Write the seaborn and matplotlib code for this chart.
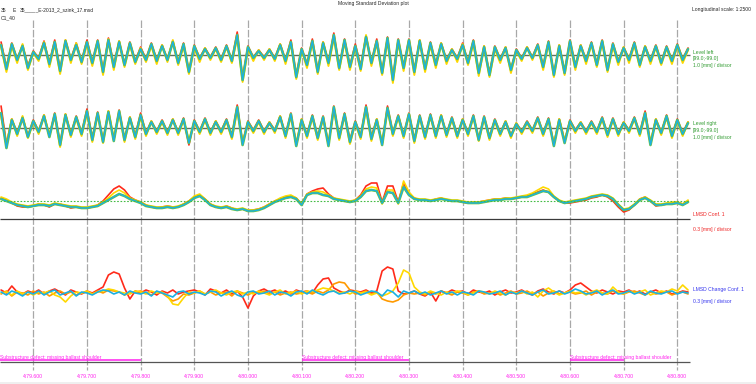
import numpy as np
import matplotlib
matplotlib.use("Agg")
import matplotlib.pyplot as plt
import seaborn as sns

sns.set_style("white")
plt.rcParams['font.family'] = ['Liberation Sans', 'DejaVu Sans']

# ---------------- data ----------------
chainage = np.arange(79540, 80830, 10)          # metres, 10 m sampling
tick_pos = [79600, 79700, 79800, 79900, 80000, 80100, 80200,
            80300, 80400, 80500, 80600, 80700, 80800]
tick_labels = [f"4:{t/1000:.3f}" for t in tick_pos]

defect_start = [79538, 80100, 80600]
defect_end = [79800, 80300, 80700]
defect_text = "Substructure defect: missing ballast shoulder"

# Level left (0.1 mm)
left_cyan = [10, -14, 11, -5, 9, -13,
             3, -4, 12, -9, 13, -16, 14, -5, 10, -7,
             13, -8, 14, -17, 15, -12, 13, -10, 12, -7,
             6, -5, 11, -6, 9, -5, 13, -8, 11, -17,
             9, -4, 6, -3, 7, -5, 9, -6, 20, -25,
             8, -3, 4, -3, 5, -4, 10, -6, 13, -22,
             6, -10, 14, -17, 12, -8, 20, -13, 15, -12,
             9, -14, 18, -8, 14, -18, 17, -25, 15, -13,
             15, -17, 14, -14, 12, -10, 11, -6, 5, -4,
             10, -8, 14, -18, 8, -20, 8, -5, 7, -15,
             5, -4, 7, -3, 10, -12, 13, -20, 9, -18,
             14, -12, 9, -6, 12, -10, 14, -15, 11, -7,
             7, -5, 12, -10, 8, -6, 9, -8, 8, -6,
             10, -5, 6]
left_yellow = [8, -17, 9, -8, 11, -15,
               2, -6, 13, -12, 11, -19, 15, -8, 12, -9,
               11, -11, 13, -20, 16, -15, 14, -12, 10, -9,
               7, -7, 9, -9, 10, -7, 15, -10, 9, -19,
               7, -7, 7, -5, 6, -7, 8, -8, 18, -27,
               6, -6, 5, -5, 6, -6, 11, -9, 12, -24,
               5, -13, 13, -19, 13, -11, 17, -15, 13, -15,
               8, -16, 20, -11, 12, -20, 15, -28, 13, -16,
               13, -20, 15, -17, 10, -13, 12, -9, 6, -7,
               11, -10, 12, -21, 9, -22, 6, -8, 8, -18,
               4, -6, 8, -5, 9, -15, 12, -22, 10, -20,
               12, -15, 10, -9, 11, -12, 13, -17, 9, -10,
               8, -8, 10, -12, 9, -9, 8, -10, 7, -9,
               9, -8, 5]
left_red = [13, -12, 12, -4, 10, -11,
            4, -3, 14, -8, 15, -14, 15, -4, 12, -6,
            15, -7, 15, -15, 17, -10, 14, -9, 13, -6,
            8, -4, 12, -5, 10, -4, 14, -7, 12, -16,
            10, -3, 7, -2, 8, -4, 10, -5, 23, -23,
            9, -2, 5, -2, 6, -3, 11, -5, 15, -20,
            7, -9, 16, -15, 13, -7, 22, -12, 16, -11,
            11, -11, 19, -7, 16, -17, 18, -23, 16, -12,
            16, -15, 15, -13, 13, -9, 12, -5, 6, -3,
            12, -7, 15, -17, 9, -18, 9, -4, 8, -14,
            6, -3, 8, -2, 11, -11, 14, -19, 10, -17,
            15, -11, 10, -5, 13, -9, 15, -14, 12, -6,
            8, -4, 13, -9, 9, -5, 10, -7, 9, -5,
            11, -4, 7]

# Level right (0.1 mm)
right_cyan = [15, -20, 8, -6, 10, -9,
              7, -4, 12, -9, 14, -17, 13, -7, 11, -6,
              17, -12, 15, -14, 16, -13, 17, -12, 10, -9,
              13, -6, 6, -4, 7, -5, 8, -5, 9, -15,
              7, -4, 9, -5, 6, -4, 8, -9, 21, -17,
              6, -3, 7, -4, 5, -3, 11, -8, 14, -18,
              8, -8, 12, -10, 11, -18, 21, -10, 14, -14,
              6, -9, 21, -11, 8, -17, 20, -6, 12, -8,
              14, -13, 12, -9, 13, -8, 12, -7, 10, -8,
              8, -6, 12, -12, 11, -10, 8, -6, 6, -8,
              4, -4, 6, -3, 10, -6, 9, -18, 8, -15,
              7, -3, 5, -4, 6, -4, 10, -7, 9, -6,
              5, -3, 10, -6, 15, -17, 8, -5, 12, -8,
              8, -6, 5]
right_yellow = [12, -17, 9, -8, 12, -10,
                6, -6, 13, -7, 12, -19, 14, -9, 10, -8,
                15, -14, 14, -15, 17, -11, 15, -14, 11, -11,
                11, -8, 7, -6, 6, -7, 9, -7, 8, -13,
                6, -6, 8, -7, 7, -6, 7, -11, 18, -15,
                5, -5, 6, -6, 6, -5, 12, -10, 12, -16,
                9, -10, 11, -12, 10, -16, 19, -12, 13, -16,
                5, -11, 19, -13, 9, -15, 18, -8, 11, -10,
                13, -15, 11, -11, 12, -10, 13, -9, 9, -10,
                9, -8, 11, -13, 10, -12, 7, -8, 7, -10,
                5, -6, 5, -5, 9, -8, 8, -16, 9, -13,
                6, -5, 6, -6, 5, -6, 9, -9, 8, -8,
                6, -5, 9, -8, 13, -15, 9, -7, 11, -10,
                7, -8, 6]
right_red = [22, -16, 9, -5, 11, -8,
             8, -3, 13, -8, 15, -15, 14, -6, 12, -5,
             19, -10, 16, -13, 17, -12, 18, -11, 11, -8,
             15, -5, 7, -3, 8, -4, 9, -4, 10, -17,
             8, -3, 10, -4, 7, -3, 9, -8, 23, -15,
             7, -2, 8, -3, 6, -2, 12, -7, 15, -17,
             9, -7, 13, -9, 12, -16, 22, -9, 15, -12,
             7, -8, 23, -9, 9, -16, 22, -5, 13, -7,
             15, -12, 13, -8, 14, -7, 13, -6, 11, -7,
             9, -5, 13, -11, 12, -9, 9, -5, 7, -7,
             5, -3, 7, -2, 11, -5, 10, -16, 9, -13,
             8, -2, 6, -3, 7, -3, 11, -6, 10, -5,
             6, -2, 11, -5, 17, -15, 9, -4, 13, -7,
             9, -5, 6]

# LMSD Conf. 1 (0.02 mm)
lmsd_limit = 18
lmsd_cyan = [20, 18, 16, 14, 13, 12,
             13, 14, 14, 13, 15, 14, 13, 12, 12, 11,
             11, 12, 13, 16, 19, 22, 25, 23, 20, 18,
             16, 13, 12, 11, 11, 12, 11, 12, 14, 17,
             21, 23, 19, 14, 12, 11, 12, 10, 9, 10,
             8, 8, 9, 11, 14, 17, 19, 21, 22, 20,
             14, 24, 26, 26, 24, 23, 20, 19, 18, 17,
             18, 22, 28, 29, 28, 16, 27, 26, 16, 32,
             24, 20, 19, 19, 18, 19, 20, 19, 18, 18,
             17, 16, 16, 16, 17, 18, 19, 19, 20, 20,
             21, 22, 22, 24, 26, 28, 27, 22, 18, 16,
             17, 18, 19, 20, 22, 23, 24, 23, 20, 14,
             9, 10, 14, 19, 21, 18, 14, 14, 15, 15,
             16, 14, 17]
lmsd_red = [21, 19, 16, 13, 12, 12,
            13, 15, 14, 12, 15, 15, 13, 11, 12, 11,
            11, 12, 14, 18, 24, 30, 33, 29, 22, 19,
            17, 14, 12, 11, 12, 13, 12, 12, 15, 18,
            22, 24, 20, 15, 12, 11, 13, 11, 9, 10,
            8, 9, 10, 12, 15, 18, 20, 22, 23, 21,
            15, 25, 28, 30, 31, 25, 21, 19, 18, 17,
            19, 24, 33, 36, 36, 17, 33, 33, 17, 36,
            25, 21, 19, 19, 18, 20, 21, 19, 18, 18,
            17, 16, 17, 17, 18, 19, 20, 20, 21, 20,
            21, 22, 23, 25, 27, 29, 27, 22, 18, 16,
            16, 17, 18, 19, 21, 22, 24, 22, 18, 12,
            7, 9, 14, 20, 22, 18, 13, 14, 15, 16,
            17, 15, 18]
lmsd_yellow = [22, 20, 17, 15, 14, 13,
               14, 15, 15, 14, 16, 15, 14, 13, 13, 12,
               12, 13, 14, 17, 21, 26, 29, 26, 21, 19,
               17, 14, 13, 12, 12, 13, 12, 13, 15, 18,
               23, 25, 20, 15, 13, 12, 13, 11, 10, 11,
               9, 9, 10, 12, 15, 18, 21, 23, 24, 21,
               15, 25, 27, 28, 27, 24, 21, 20, 19, 18,
               19, 23, 30, 32, 31, 15, 29, 29, 15, 38,
               27, 21, 20, 20, 19, 20, 21, 20, 19, 19,
               18, 17, 17, 17, 18, 19, 20, 20, 21, 21,
               22, 23, 24, 26, 29, 32, 30, 23, 19, 17,
               18, 19, 20, 21, 23, 24, 25, 24, 21, 15,
               10, 11, 15, 20, 22, 19, 15, 15, 16, 17,
               17, 15, 19]

# LMSD Change Conf. 1 (0.02 mm)
chg_cyan = [1, -2, 2, 0, -3, 1,
            -1, 2, -2, 1, 3, -2, 0, 2, -3, 1,
            0, -2, 1, 3, 2, -1, 1, -2, 2, 0,
            -1, 1, -3, 2, 0, -2, -4, 1, 2, -1,
            1, 0, -2, 2, 1, -3, 0, 2, -2, -4,
            1, 2, -1, 0, 2, -2, 1, 0, -3, 1,
            2, -1, 3, 0, -2, 1, 2, -1, 0, 2,
            1, -2, 0, 2, 1, -3, 3, 1, -4, 2,
            0, 2, -1, 1, -2, 0, 2, -1, 1, -2,
            1, 0, -2, 2, 1, -1, 0, 2, -2, 1,
            -1, 2, 0, -2, 1, 3, -1, 0, 2, -1,
            1, 4, 2, -1, 0, 2, -2, 1, 3, -1,
            0, 2, -1, 1, -2, 2, 0, -1, 1, 2,
            -1, 1, 0]
chg_red = [3, 0, 7, 1, -1, 2,
           0, 3, -1, 2, 4, 1, -2, 3, 1, -1,
           2, 0, 3, 6, 18, 21, 19, 5, -6, 2,
           0, 3, 1, -2, 2, 0, 3, -1, 1, 2,
           3, 1, -2, 4, 2, 0, 3, -1, 2, -4,
           -15, -3, 2, 4, 1, 3, 0, 2, -1, 3,
           1, 2, 0, 8, 14, 15, 5, 2, 0, 3,
           2, 1, 3, 0, 2, 22, 26, 24, 2, -1,
           0, 2, -1, -3, 1, -8, 2, 0, 3, 1,
           2, -1, 3, 1, 0, 2, -2, 1, 3, 0,
           1, 3, 0, -2, 2, 4, 1, -1, 2, 0,
           3, 8, 10, 6, 2, 0, 3, 1, -1, 2,
           1, 3, 0, 2, -1, 1, 3, 0, 2, -1,
           0, 2, 1]
chg_orange = [-1, 2, -3, 1, 0, -2,
              2, -1, 1, -3, 0, 2, -1, 1, -2, 0,
              1, -1, 2, 0, 3, 2, 1, -2, 0, 1,
              2, 0, -2, 1, 0, -4, -8, -6, -1, -2,
              0, 2, -1, 1, -2, 0, 1, -3, 2, 0,
              -2, 1, 0, 2, -1, 1, -2, 0, 1, -1,
              0, 1, -1, 2, 0, 3, 9, 11, 10, 3,
              -1, 0, 2, -1, 1, -6, -8, -9, -7, -2,
              0, -1, 0, -2, 1, -1, 2, 0, -2, 1,
              0, -2, 1, 2, -1, 0, 1, -2, 0, 2,
              -1, 0, 2, -1, 1, -3, 0, 2, -1, 0,
              1, -1, 0, 2, -2, 1, 0, -1, 2, 0,
              -1, 1, 2, 0, -2, 1, -1, 0, 1, -2,
              0, 1, -1]
chg_yellow = [0, 1, -2, 2, -1, 1,
              -2, 1, 0, 2, -2, -4, -9, -3, 1, 0,
              2, -1, 1, 2, 4, 3, 1, 0, -1, 2,
              1, -1, 2, 0, 1, -3, -11, -12, -5, 1,
              0, 2, -1, 1, 3, 0, -2, 1, 2, -1,
              1, -1, 2, 0, -2, 1, 3, -1, 0, 2,
              -1, 2, 1, 3, 5, 4, 2, 0, 1, -1,
              2, 0, 1, -2, 0, -3, -1, 2, 10, 23,
              20, 6, 1, -1, 2, 0, -2, 1, 0, 2,
              1, -2, 0, 2, 1, -1, 2, 0, -2, 1,
              0, 2, -1, 1, -4, 2, 5, 1, -2, 0,
              2, 0, 1, -2, 1, 3, 0, -1, 6, 1,
              -1, 2, 0, 1, 3, -2, 0, 2, 1, 4,
              2, 8, 3]

# ---------------- layout (pixel rows) ----------------
W, H = 756, 384
PX_PER_M = 0.5367
X0 = 79538.0
X1 = X0 + W / PX_PER_M
ROW_LEFT, ROW_RIGHT, ROW_LMSD, ROW_CHG, ROW_DEF = 55, 128, 219, 293, 361
LINE_END = X0 + 690 / PX_PER_M
LABEL_X = X0 + 693 / PX_PER_M

RED, ORANGE, YELLOW, GREEN, CYAN = "#ff2a1a", "#ff9a00", "#ffd800", "#72c43a", "#1ab0e2"
MAGENTA = "#ff22ee"

fig = plt.figure(figsize=(W / 100, H / 100), dpi=100)
ax = fig.add_axes([0, 0, 1, 1])
ax.set_xlim(X0, X1)
ax.set_ylim(H, 0)
ax.axis("off")


def draw(vals, row, color, lw, z):
    y = row - np.asarray(vals, dtype=float)
    sns.lineplot(x=chainage, y=y, color=color, lw=lw, ax=ax, zorder=z,
                 estimator=None, sort=False, legend=False)


# grid
ax.vlines(tick_pos, 20, 370, colors="#a8a8a8", lw=0.9, linestyles=(0, (6, 1.5)), zorder=1)

# panel 1 & 2
for row, red, yel, cya in [(ROW_LEFT, left_red, left_yellow, left_cyan),
                           (ROW_RIGHT, right_red, right_yellow, right_cyan)]:
    ax.hlines(row, X0, LINE_END, colors="#5f6f5f", lw=1.0, zorder=2)
    draw(red, row, RED, 1.2, 3)
    draw(yel, row, YELLOW, 1.4, 4)
    draw(cya, row, GREEN, 1.9, 5)
    draw(cya, row, CYAN, 1.0, 6)

# panel 3
ax.hlines(ROW_LMSD - lmsd_limit, X0, LINE_END, colors="#44bb44", lw=0.8,
          linestyles=(0, (1.5, 1.5)), zorder=7)
ax.hlines(ROW_LMSD, X0, LINE_END, colors="#3a3a3a", lw=0.9, zorder=2)
draw(lmsd_red, ROW_LMSD, RED, 1.2, 3)
draw(lmsd_yellow, ROW_LMSD, YELLOW, 1.2, 4)
draw(lmsd_cyan, ROW_LMSD, GREEN, 1.9, 5)
draw(lmsd_cyan, ROW_LMSD, CYAN, 1.0, 6)

# panel 4
draw(chg_red, ROW_CHG, RED, 1.2, 3)
draw(chg_orange, ROW_CHG, ORANGE, 1.2, 4)
draw(chg_yellow, ROW_CHG, YELLOW, 1.2, 5)
draw(chg_cyan, ROW_CHG, CYAN, 1.2, 6)

# defects
ax.hlines(ROW_DEF + 0.6, X0, LINE_END, colors="#555555", lw=0.9, zorder=2)
for s, e in zip(defect_start, defect_end):
    ax.hlines(ROW_DEF - 0.6, s, e, colors=MAGENTA, lw=1.1, zorder=3)
    ax.text(s, ROW_DEF - 4, defect_text, color=MAGENTA, fontsize=3.6,
            ha="left", va="center")

# tick labels
for t, lab in zip(tick_pos, tick_labels):
    ax.text(t, 376, lab, color=MAGENTA, fontsize=3.7, ha="center", va="center")

# header
FS = 3.6
ax.text(X0 + 1 / PX_PER_M, 10, "35", fontsize=FS, va="center")
ax.text(X0 + 13 / PX_PER_M, 10, "E", fontsize=FS, va="center")
ax.text(X0 + 20 / PX_PER_M, 10, "35_____E-2013_2_szink_17.msd", fontsize=FS, va="center")
ax.text(X0 + 1 / PX_PER_M, 18, "C1_40", fontsize=FS, va="center")
ax.text(X0 + 373 / PX_PER_M, 3.5, "Moving Standard Deviation plot", fontsize=FS,
        ha="center", va="center")
ax.text(X0 + 751 / PX_PER_M, 10, "Longitudinal scale: 1:2500", fontsize=FS,
        ha="right", va="center")

# right labels
LG = "#2e9a2e"
ax.text(LABEL_X, 52.5, "Level left", color=LG, fontsize=FS, va="center")
ax.text(LABEL_X, 58.5, "[99.0;-99.0]", color=LG, fontsize=FS, va="center")
ax.text(LABEL_X, 65.5, "1.0 [mm] / divisor", color=LG, fontsize=FS, va="center")
ax.text(LABEL_X, 124, "Level right", color=LG, fontsize=FS, va="center")
ax.text(LABEL_X, 130.5, "[99.0;-99.0]", color=LG, fontsize=FS, va="center")
ax.text(LABEL_X, 138, "1.0 [mm] / divisor", color=LG, fontsize=FS, va="center")
ax.text(LABEL_X, 215, "LMSD Conf. 1", color="#ee2222", fontsize=FS, va="center")
ax.text(LABEL_X, 229.5, "0.3 [mm] / divisor", color="#ee2222", fontsize=FS, va="center")
ax.text(LABEL_X, 289, "LMSD Change Conf. 1", color="#3333ee", fontsize=FS, va="center")
ax.text(LABEL_X, 302, "0.3 [mm] / divisor", color="#3333ee", fontsize=FS, va="center")

ax.axhspan(381.5, 384, color="#efefef", zorder=0, lw=0)

fig.savefig("out.png", dpi=100)
